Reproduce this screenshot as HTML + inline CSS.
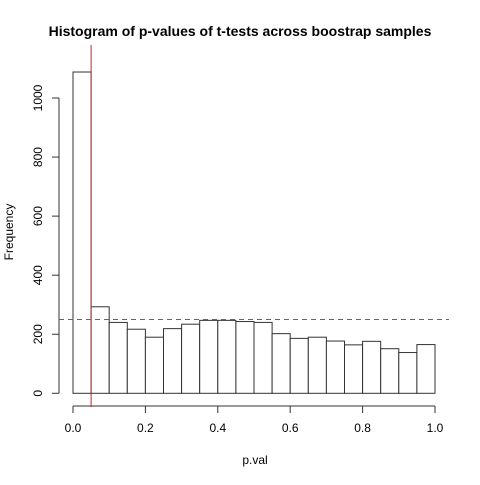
<!DOCTYPE html>
<html><head><meta charset="utf-8"><style>
body{margin:0;background:#fff;font-family:"Liberation Sans",Arial,sans-serif}
svg text{font-family:"Liberation Sans",Arial,sans-serif}
</style></head><body>
<svg id="c" width="480" height="480"></svg>
<script>
const binStarts=[0,0.05,0.1,0.15,0.2,0.25,0.3,0.35,0.4,0.45,0.5,0.55,0.6,0.65,0.7,0.75,0.8,0.85,0.9,0.95];
const counts=[1088,293,240,217,190,219,234,247,247,243,240,202,186,190,177,164,176,151,138,165];
const xTicks=[0,0.2,0.4,0.6,0.8,1.0];
const xTickLabels=["0.0","0.2","0.4","0.6","0.8","1.0"];
const yTicks=[0,200,400,600,800,1000];
const binWidth=0.05;
const refX=0.05;
const refY=250;
const NS="http://www.w3.org/2000/svg";
const svg=document.getElementById('c');
const X=v=>73+v*362;
const Y=v=>393.3-v*0.2953;
function mk(t,a,p){const e=document.createElementNS(NS,t);for(const k in a)e.setAttribute(k,a[k]);(p||svg).appendChild(e);return e;}
binStarts.forEach((b,i)=>{
 const r=mk('rect',{x:X(b),y:Y(counts[i]),width:X(b+binWidth)-X(b),height:Y(0)-Y(counts[i]),fill:'#fff',stroke:'#333','stroke-width':1});
 
 
});
const ax=mk('line',{x1:X(0),x2:X(1),y1:406,y2:406,stroke:'#333'});


xTicks.forEach((t,i)=>{
 mk('line',{x1:X(t),x2:X(t),y1:406,y2:413,stroke:'#333'});
 const tx=mk('text',{x:X(t),y:432,'font-size':12,'text-anchor':'middle'});tx.textContent=xTickLabels[i];
 
 
});
const ay=mk('line',{x1:59,x2:59,y1:Y(0),y2:Y(1000),stroke:'#333'});


yTicks.forEach(t=>{
 mk('line',{x1:52,x2:59,y1:Y(t),y2:Y(t),stroke:'#333'});
 const tx=mk('text',{x:42,y:Y(t),'font-size':12,'text-anchor':'middle',transform:`rotate(-90 42 ${Y(t)})`});tx.textContent=t;
 
 
});
const vl=mk('line',{x1:X(refX),x2:X(refX),y1:45,y2:407,stroke:'#c0272d'});


const hl=mk('line',{x1:59,x2:449,y1:Y(refY),y2:Y(refY),stroke:'#5555dd','stroke-dasharray':'5,4'});


</script>
<div style="position:absolute;left:0;top:23px;width:480px;text-align:center;font-weight:bold;font-size:14px">Histogram of p-values of t-tests across boostrap samples</div>
<div style="position:absolute;left:0;top:453px;width:510px;text-align:center;font-size:12px">p.val</div>
<div style="position:absolute;left:-31px;top:225px;width:80px;text-align:center;font-size:12px;transform:rotate(-90deg)">Frequency</div>
</body></html>
